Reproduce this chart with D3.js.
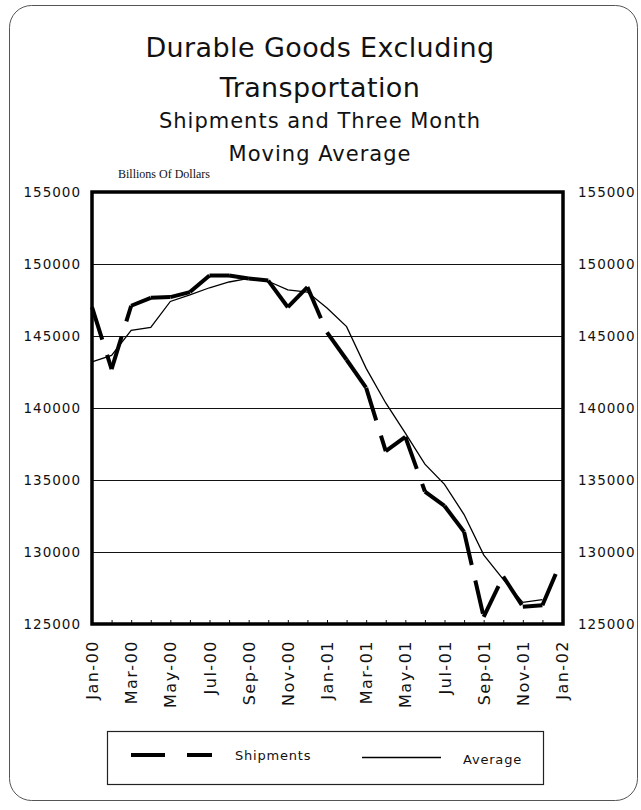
<!DOCTYPE html>
<html>
<head>
<meta charset="utf-8">
<script src="https://cdn.jsdelivr.net/npm/d3@7"></script>
<style>
body { margin: 0; background: #fff; }
svg text { fill: #111; }
</style>
</head>
<body>
<div id="chart"></div>
<script>
// months on the category axis, Jan-00 .. Jan-02
var months = ["Jan-00","Feb-00","Mar-00","Apr-00","May-00","Jun-00","Jul-00","Aug-00","Sep-00","Oct-00","Nov-00","Dec-00",
	"Jan-01","Feb-01","Mar-01","Apr-01","May-01","Jun-01","Jul-01","Aug-01","Sep-01","Oct-01","Nov-01","Dec-01","Jan-02"];
var monthLabels = ["Jan-00","Mar-00","May-00","Jul-00","Sep-00","Nov-00","Jan-01","Mar-01","May-01","Jul-01","Sep-01","Nov-01","Jan-02"];

var shipments = [147000,142700,147100,147650,147700,148050,149200,149200,149000,148850,147000,148400,
	145250,143350,141400,137000,138000,134200,133200,131400,125500,128300,126200,126300,129500];
var average = [143200,143650,145400,145600,147400,147850,148350,148750,149000,148800,148200,148050,
	146950,145650,142750,140350,138250,136100,134700,132600,129800,128100,126500,126700];

var yTicks = [125000,130000,135000,140000,145000,150000,155000];

var W = 641, H = 810;
var plotL = 92, plotR = 562, plotT = 192, plotB = 624;

var svg = d3.select('#chart').append('svg')
	.attr('width', W).attr('height', H);

// rounded page border
svg.append('rect')
	.attr('x', 9.5).attr('y', 5.5).attr('width', 628).attr('height', 795)
	.attr('rx', 22).attr('fill', 'none').attr('stroke', '#555').attr('stroke-width', 1);

var titleFont = '"DejaVu Sans", sans-serif';
var titles = [
	{t: 'Durable Goods Excluding', y: 57, s: 27, ls: 0.4},
	{t: 'Transportation', y: 97, s: 27, ls: 0.4},
	{t: 'Shipments and Three Month', y: 128, s: 21, ls: 1},
	{t: 'Moving Average', y: 161, s: 21, ls: 1}
];
svg.selectAll('text.title').data(titles).enter().append('text')
	.attr('class', 'title')
	.attr('x', 320).attr('y', function(d) { return d.y; })
	.attr('text-anchor', 'middle')
	.style('font-family', titleFont)
	.style('font-size', function(d) { return d.s + 'px'; })
	.style('letter-spacing', function(d) { return d.ls + 'px'; })
	.text(function(d) { return d.t; });

svg.append('text')
	.attr('x', 118).attr('y', 178)
	.style('font-family', '"Liberation Serif", serif')
	.style('font-size', '12px')
	.text('Billions Of Dollars');

var x = d3.scaleLinear().domain([0, months.length - 1]).range([plotL, plotR]);
var y = d3.scaleLinear().domain([125000, 155000]).range([plotB, plotT]);

// gridlines
svg.append('g').selectAll('line')
	.data(yTicks.filter(function(v) { return v > 125000 && v < 155000; }))
	.enter().append('line')
	.attr('x1', plotL).attr('x2', plotR)
	.attr('y1', function(d) { return Math.round(y(d)) + 0.5; })
	.attr('y2', function(d) { return Math.round(y(d)) + 0.5; })
	.attr('stroke', '#111').attr('stroke-width', 1);

var tickFont = '"DejaVu Sans", sans-serif';

var yl = svg.append('g').attr('transform', 'translate(' + (plotL - 11) + ',0)')
	.call(d3.axisLeft(y).tickValues(yTicks).tickSize(0).tickPadding(0).tickFormat(d3.format('d')));
var yr = svg.append('g').attr('transform', 'translate(' + (plotR + 16) + ',0)')
	.call(d3.axisRight(y).tickValues(yTicks).tickSize(0).tickPadding(0).tickFormat(d3.format('d')));
[yl, yr].forEach(function(g) {
	g.select('.domain').remove();
	g.selectAll('text').style('font-family', tickFont).style('font-size', '13.5px')
		.style('letter-spacing', '1px').attr('fill', '#111');
});

// bottom axis: small inward ticks each month, labels every other month
var xb = svg.append('g').attr('transform', 'translate(0,' + plotB + ')')
	.call(d3.axisBottom(x).tickValues(d3.range(months.length)).tickSizeInner(-4).tickSizeOuter(0)
		.tickFormat(function(i) { return monthLabels.indexOf(months[i]) >= 0 ? months[i] : ''; }));
xb.select('.domain').remove();
xb.selectAll('line').attr('stroke', '#111');
xb.selectAll('text')
	.style('font-family', tickFont).style('font-size', '16px').style('letter-spacing', '1.5px')
	.attr('fill', '#111')
	.attr('transform', 'rotate(-90)')
	.attr('text-anchor', 'end')
	.attr('x', -16).attr('y', 0).attr('dy', '0.35em');

// plot frame
svg.append('rect')
	.attr('x', plotL).attr('y', plotT).attr('width', plotR - plotL + 1).attr('height', plotB - plotT)
	.attr('fill', 'none').attr('stroke', '#000').attr('stroke-width', 3.5);

// average: thin solid line
var line = d3.line().x(function(d, i) { return x(i); }).y(function(d) { return y(d); });
svg.append('path').datum(average)
	.attr('d', line)
	.attr('fill', 'none').attr('stroke', '#000').attr('stroke-width', 1.3);

// shipments: thick dashed, the dash pattern restarts on every segment
var segs = d3.pairs(shipments.map(function(v, i) { return [i, v]; }));
svg.append('g').selectAll('path').data(segs).enter().append('path')
	.attr('d', function(p) {
		return 'M' + x(p[0][0]) + ',' + y(p[0][1]) + 'L' + x(p[1][0]) + ',' + y(p[1][1]);
	})
	.attr('fill', 'none').attr('stroke', '#000').attr('stroke-width', 4)
	.attr('stroke-linejoin', 'round')
	.attr('stroke-dasharray', '34,16');

// legend
var lg = svg.append('g');
lg.append('rect').attr('x', 107.5).attr('y', 731.5).attr('width', 436).attr('height', 53)
	.attr('fill', 'none').attr('stroke', '#222').attr('stroke-width', 1.2);
lg.append('line').attr('x1', 131).attr('x2', 212).attr('y1', 755).attr('y2', 755)
	.attr('stroke', '#000').attr('stroke-width', 4).attr('stroke-dasharray', '34,22');
lg.append('text').attr('x', 235).attr('y', 760)
	.style('font-family', tickFont).style('font-size', '13px').style('letter-spacing', '0.8px')
	.text('Shipments');
lg.append('line').attr('x1', 362).attr('x2', 441).attr('y1', 757.5).attr('y2', 757.5)
	.attr('stroke', '#000').attr('stroke-width', 1.3);
lg.append('text').attr('x', 463).attr('y', 764)
	.style('font-family', tickFont).style('font-size', '13px').style('letter-spacing', '0.8px')
	.text('Average');
</script>
</body>
</html>
